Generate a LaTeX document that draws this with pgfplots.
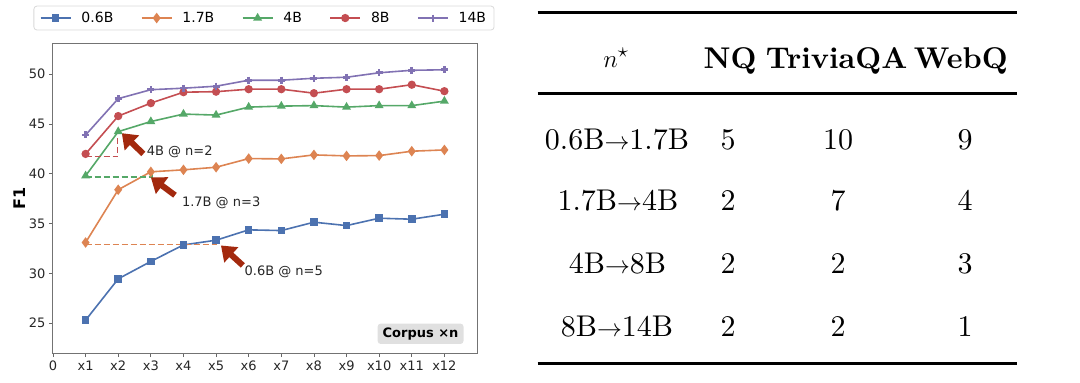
\documentclass[border=0pt]{standalone}
\usepackage{pgfplots}
\pgfplotsset{compat=1.18}
\usepackage{fontspec}
\newfontfamily\dejavu{DejaVu Sans}
\newfontfamily\lmten{lmroman10-regular}[Extension=.otf, BoldFont=lmroman10-bold]
\usetikzlibrary{arrows.meta}
\definecolor{cblue}{HTML}{4C72B0}
\definecolor{corange}{HTML}{DD8452}
\definecolor{cgreen}{HTML}{55A868}
\definecolor{cred}{HTML}{C44E52}
\definecolor{cpurple}{HTML}{8172B3}
\definecolor{arrowred}{HTML}{A3290E}
\begin{document}
\begin{tikzpicture}
\path[use as bounding box] (0,0) rectangle (1080pt,-383pt);
\begin{axis}[
  at={(53pt,-353pt)}, anchor=south west,
  scale only axis, width=424pt, height=309pt,
  xmin=0, xmax=13, ymin=22, ymax=53.04,
  xtick={0,...,12}, xticklabels={0,x1,x2,x3,x4,x5,x6,x7,x8,x9,x10,x11,x12},
  ytick={25,30,35,40,45,50},
  xtick pos=left, ytick pos=left, tick align=outside, major tick length=4pt,
  tick style={black!60, line width=0.8pt},
  axis line style={black!55, line width=1pt},
  tick label style={font=\dejavu\fontsize{13}{15}\selectfont, text=black!85},
  /pgf/number format/assume math mode=true,
  ylabel={F1},
  ylabel style={font=\dejavu\bfseries\fontsize{16}{18}\selectfont, at={(axis description cs:-0.078,0.5)}, anchor=center},
  legend columns=5,
  legend style={at={(axis description cs:0.4976,1.084)}, anchor=center, draw=black!15, line width=0.8pt, rounded corners=3pt, font=\dejavu\fontsize{14}{16}\selectfont, /tikz/every odd column/.append style={column sep=8pt}, /tikz/every even column/.append style={column sep=25.5pt}, inner xsep=6pt, inner ysep=4pt},
  legend image code/.code={\draw[mark repeat=2, mark phase=2, #1] plot coordinates {(0pt,0pt) (15pt,0pt) (30pt,0pt)};},
  every axis plot/.append style={line width=1.6pt},
  clip=false
]
\addplot[cblue, mark=square*, mark size=3pt, mark options={solid, fill=cblue}] coordinates {(1,25.3)(2,29.45)(3,31.2)(4,32.86)(5,33.33)(6,34.37)(7,34.3)(8,35.14)(9,34.8)(10,35.54)(11,35.44)(12,35.94)};
\addlegendentry{0.6B}
\addplot[corange, mark=diamond*, mark size=4pt, mark options={solid, fill=corange}] coordinates {(1,33.1)(2,38.4)(3,40.2)(4,40.4)(5,40.66)(6,41.53)(7,41.5)(8,41.9)(9,41.8)(10,41.83)(11,42.27)(12,42.4)};
\addlegendentry{1.7B}
\addplot[cgreen, mark=triangle*, mark size=3.6pt, mark options={solid, fill=cgreen}] coordinates {(1,39.8)(2,44.24)(3,45.25)(4,46.0)(5,45.9)(6,46.7)(7,46.8)(8,46.85)(9,46.7)(10,46.85)(11,46.85)(12,47.3)};
\addlegendentry{4B}
\addplot[cred, mark=*, mark size=3.3pt, mark options={solid, fill=cred}] coordinates {(1,42.0)(2,45.8)(3,47.1)(4,48.2)(5,48.25)(6,48.5)(7,48.5)(8,48.1)(9,48.5)(10,48.5)(11,48.95)(12,48.3)};
\addlegendentry{8B}
\addplot[cpurple, mark=+, mark size=3.5pt, mark options={solid, line width=2.6pt}] coordinates {(1,43.9)(2,47.55)(3,48.45)(4,48.6)(5,48.8)(6,49.4)(7,49.4)(8,49.6)(9,49.7)(10,50.15)(11,50.4)(12,50.45)};
\addlegendentry{14B}
% dashed guides
\addplot[corange, dash pattern=on 6pt off 3pt, line width=1.6pt, forget plot] coordinates {(1,32.9)(5.02,32.9)};
\addplot[cgreen, dash pattern=on 6pt off 3pt, line width=1.6pt, forget plot] coordinates {(1,39.66)(3.03,39.66)(3.03,40.05)};
\addplot[cred, dash pattern=on 6pt off 3pt, line width=1.6pt, forget plot] coordinates {(1,41.73)(1.98,41.73)(1.98,43.9)};
% arrows
\draw[arrowred, line width=6pt, -{Triangle[length=14pt,width=20pt]}] (axis cs:2.77,42.0) -- (axis cs:2.11,44.08);
\draw[arrowred, line width=6pt, -{Triangle[length=14pt,width=20pt]}] (axis cs:3.74,37.85) -- (axis cs:3.0,39.65);
\draw[arrowred, line width=6pt, -{Triangle[length=14pt,width=20pt]}] (axis cs:5.82,30.8) -- (axis cs:5.15,32.8);
\node[anchor=west, inner sep=0pt, font=\dejavu\fontsize{13}{15}\selectfont, text=black!85] at (axis cs:2.87,42.23) {4B @ n=2};
\node[anchor=west, inner sep=0pt, font=\dejavu\fontsize{13}{15}\selectfont, text=black!85] at (axis cs:3.95,37.05) {1.7B @ n=3};
\node[anchor=west, inner sep=0pt, font=\dejavu\fontsize{13}{15}\selectfont, text=black!85] at (axis cs:5.87,30.18) {0.6B @ n=5};
\node[fill=black!12, rounded corners=3pt, font=\dejavu\bfseries\fontsize{13}{15}\selectfont, inner xsep=5pt, inner ysep=4pt] at (axis cs:11.27,23.93) {Corpus ×n};
\end{axis}
% table
\draw[line width=3pt] (537.7pt,-12pt) -- (1017.3pt,-12pt);
\draw[line width=3pt] (537.7pt,-93.3pt) -- (1017.3pt,-93.3pt);
\draw[line width=3pt] (537.7pt,-363.3pt) -- (1017.3pt,-363.3pt);
\begin{scope}[every node/.style={anchor=base, inner sep=0pt, font=\lmten\fontsize{30}{36}\selectfont}]
\node at (616pt,-67pt) {$n^\star$};
\node at (730pt,-68pt) {\textbf{NQ}};
\node at (836.7pt,-68pt) {\textbf{TriviaQA}};
\node at (960.8pt,-68pt) {\textbf{WebQ}};
\node at (617pt,-149.3pt) {0.6B$\rightarrow$1.7B};
\node at (728pt,-149.3pt) {5};
\node at (838pt,-149.3pt) {10};
\node at (965pt,-149.3pt) {9};
\node at (618pt,-210.7pt) {1.7B$\rightarrow$4B};
\node at (728pt,-210.7pt) {2};
\node at (838pt,-210.7pt) {7};
\node at (965pt,-210.7pt) {4};
\node at (617.5pt,-273.3pt) {4B$\rightarrow$8B};
\node at (728pt,-273.3pt) {2};
\node at (838pt,-273.3pt) {2};
\node at (965pt,-273.3pt) {3};
\node at (617pt,-336.7pt) {8B$\rightarrow$14B};
\node at (728pt,-336.7pt) {2};
\node at (838pt,-336.7pt) {2};
\node at (965pt,-336.7pt) {1};
\end{scope}
\end{tikzpicture}
\end{document}
